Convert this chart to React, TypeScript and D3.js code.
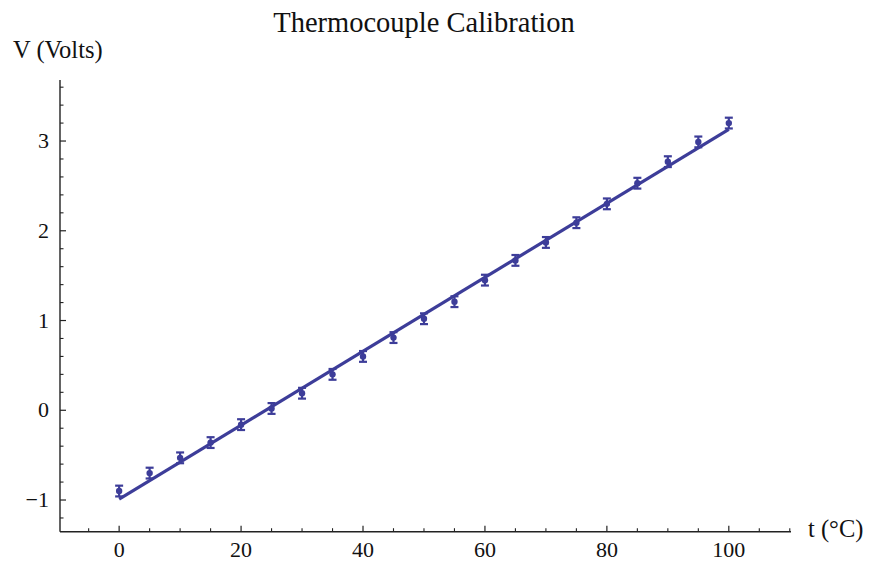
import React from "react";
import * as d3 from "d3";

const temps = [0, 5, 10, 15, 20, 25, 30, 35, 40, 45, 50, 55, 60, 65, 70, 75, 80, 85, 90, 95, 100];
const volts = [-0.9, -0.7, -0.53, -0.36, -0.16, 0.02, 0.19, 0.4, 0.6, 0.81, 1.02, 1.21, 1.45, 1.67, 1.87, 2.09, 2.3, 2.53, 2.77, 2.99, 3.2];
const errs = [0.06, 0.06, 0.06, 0.06, 0.06, 0.06, 0.06, 0.06, 0.06, 0.06, 0.06, 0.06, 0.06, 0.06, 0.06, 0.06, 0.06, 0.06, 0.06, 0.06, 0.06];
const fitIntercept = -0.99;
const fitSlope = 0.0412;
const xMajor = [0, 20, 40, 60, 80, 100];
const yMajor = [-1, 0, 1, 2, 3];

const W = 871;
const H = 561;
const COLOR = "#3d3d99";
const FONT = "'Liberation Serif', 'DejaVu Serif', serif";

export default function App() {
  const x = d3.scaleLinear().domain([-9.7, 110.2]).range([60, 791]);
  const y = d3.scaleLinear().domain([-1.353, 3.68]).range([531.7, 80]);
  const x0 = x.range()[0];
  const y0 = y.range()[0];
  const xMinor = d3.range(-5, 111, 5).filter((v) => !xMajor.includes(v));
  const yMinor = d3.range(-1.2, 3.7, 0.2).map((v) => Math.round(v * 10) / 10).filter((v) => !yMajor.includes(v));
  const fitLine = d3.line<number>().x((t) => x(t)).y((t) => y(fitIntercept + fitSlope * t));
  const fmt = (v: number) => (v < 0 ? "\u2212" + Math.abs(v) : String(v));

  return (
    <svg width={W} height={H} style={{ position: "absolute", left: 0, top: 0, background: "#fff" }}>
      <text x={424} y={32} textAnchor="middle" fontFamily={FONT} fontSize={28.5} fill="#111">
        Thermocouple Calibration
      </text>
      <text x={13} y={58} fontFamily={FONT} fontSize={24.5} fill="#111">
        V (Volts)
      </text>
      <text x={808} y={537} fontFamily={FONT} fontSize={24.5} fill="#111">
        t (°C)
      </text>
      {/* axes */}
      <line x1={x0} x2={x0} y1={y.range()[1]} y2={y0} stroke="#222" strokeWidth={1.4} />
      <line x1={x0} x2={x.range()[1]} y1={y0} y2={y0} stroke="#222" strokeWidth={1.4} />
      {xMajor.map((t) => (
        <g key={"xm" + t}>
          <line x1={x(t)} x2={x(t)} y1={y0} y2={y0 - 6} stroke="#222" strokeWidth={1.2} />
          <text x={x(t)} y={557} textAnchor="middle" fontFamily={FONT} fontSize={22} fill="#111">
            {fmt(t)}
          </text>
        </g>
      ))}
      {xMinor.map((t) => (
        <line key={"xn" + t} x1={x(t)} x2={x(t)} y1={y0} y2={y0 - 3.5} stroke="#222" strokeWidth={1.1} />
      ))}
      {yMajor.map((v) => (
        <g key={"ym" + v}>
          <line x1={x0} x2={x0 + 6} y1={y(v)} y2={y(v)} stroke="#222" strokeWidth={1.2} />
          <text x={49} y={y(v) + 7} textAnchor="end" fontFamily={FONT} fontSize={22} fill="#111">
            {fmt(v)}
          </text>
        </g>
      ))}
      {yMinor.map((v) => (
        <line key={"yn" + v} x1={x0} x2={x0 + 3.5} y1={y(v)} y2={y(v)} stroke="#222" strokeWidth={1.1} />
      ))}
      {/* fit line */}
      <path d={fitLine([0, 100]) || ""} fill="none" stroke={COLOR} strokeWidth={3.2} />
      {/* data with error bars */}
      {temps.map((t, i) => {
        const cx = x(t);
        const top = y(volts[i] + errs[i]);
        const bot = y(volts[i] - errs[i]);
        return (
          <g key={"p" + t} stroke={COLOR} fill={COLOR}>
            <line x1={cx} x2={cx} y1={top} y2={bot} strokeWidth={2.2} />
            <line x1={cx - 4} x2={cx + 4} y1={top} y2={top} strokeWidth={2.2} />
            <line x1={cx - 4} x2={cx + 4} y1={bot} y2={bot} strokeWidth={2.2} />
            <circle cx={cx} cy={y(volts[i])} r={3.2} stroke="none" />
          </g>
        );
      })}
    </svg>
  );
}
